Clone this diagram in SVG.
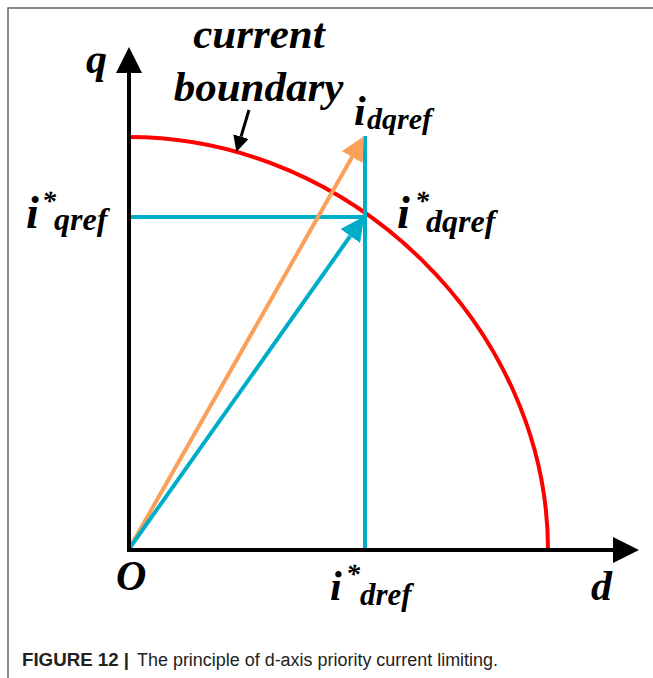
<svg xmlns="http://www.w3.org/2000/svg" width="653" height="678" viewBox="0 0 653 678">
<style>
.lbl{font-family:"Liberation Serif","Times New Roman",serif;font-weight:bold;font-style:italic;fill:#000}
.cap{font-family:"Liberation Sans",Arial,sans-serif;font-size:18px;fill:#222}
.ax{stroke:#000;stroke-width:4;fill:none}
.cy{stroke:#00adc8;stroke-width:4;fill:none}
.or{stroke:#fba05a;stroke-width:4;fill:none}
</style>
<defs>
<marker id="mAx" markerUnits="userSpaceOnUse" markerWidth="26" markerHeight="26" viewBox="0 -12 24 24" refX="0" refY="0" orient="auto"><path d="M0,-12 L24,0 L0,12 z" fill="#000"/></marker>
<marker id="mOr" markerUnits="userSpaceOnUse" markerWidth="24" markerHeight="24" viewBox="0 -11 22 22" refX="0" refY="0" orient="auto"><path d="M0,-11 L22,0 L0,11 z" fill="#fba05a"/></marker>
<marker id="mCy" markerUnits="userSpaceOnUse" markerWidth="24" markerHeight="24" viewBox="0 -11 22 22" refX="0" refY="0" orient="auto"><path d="M0,-11 L22,0 L0,11 z" fill="#00adc8"/></marker>
<marker id="mSm" markerUnits="userSpaceOnUse" markerWidth="16" markerHeight="16" viewBox="0 -7 14 14" refX="0" refY="0" orient="auto"><path d="M0,-7 L14,0 L0,7 z" fill="#000"/></marker>
</defs>
<g id="frame" stroke="#666" stroke-width="1.5" fill="none">
<path d="M8,678 L8,8 L653,8"/>
</g>
<g id="connectors">
<path id="boundary-curve" d="M129,137 C353,137 548,329 548,550" stroke="#ff0000" stroke-width="4" fill="none"/>
<line class="cy" x1="365" y1="136" x2="365" y2="550"/>
<line class="cy" x1="129" y1="217" x2="365" y2="217"/>
<line class="or" x1="129" y1="549" x2="352.1" y2="157.1" marker-end="url(#mOr)"/>
<line class="cy" x1="129" y1="549" x2="350.3" y2="236" marker-end="url(#mCy)"/>
<line class="ax" x1="129" y1="552" x2="129" y2="73" marker-end="url(#mAx)"/>
<line class="ax" x1="127" y1="550" x2="613" y2="550" marker-end="url(#mAx)"/>
<line stroke="#000" stroke-width="3" x1="249" y1="110" x2="241" y2="136.6" marker-end="url(#mSm)"/>
</g>
<g id="label-q"><text class="lbl" x="86" y="73" font-size="42">q</text></g>
<g id="label-boundary">
<text class="lbl" x="259" y="48" font-size="43" text-anchor="middle">current</text>
<text class="lbl" x="258.5" y="101" font-size="43" text-anchor="middle">boundary</text>
</g>
<g id="label-idqref"><text class="lbl" x="354" y="125" font-size="42">i<tspan x="367" y="129" font-size="30">dqref</tspan></text></g>
<g id="label-idqref-star"><text class="lbl" x="397" y="228" font-size="46">i<tspan x="415" y="210" font-size="28">*</tspan><tspan x="426" y="232" font-size="32">dqref</tspan></text></g>
<g id="label-iqref-star"><text class="lbl" x="26" y="228" font-size="46">i<tspan x="42" y="210" font-size="28">*</tspan><tspan x="54" y="230" font-size="32">qref</tspan></text></g>
<g id="label-idref-star"><text class="lbl" x="330" y="600" font-size="42">i<tspan x="346" y="583" font-size="28">*</tspan><tspan x="360" y="605" font-size="31">dref</tspan></text></g>
<g id="label-O"><text class="lbl" x="116" y="590" font-size="42">O</text></g>
<g id="label-d"><text class="lbl" x="591" y="600" font-size="42">d</text></g>
<g id="caption"><text class="cap" x="22" y="666"><tspan font-weight="bold" textLength="107" lengthAdjust="spacingAndGlyphs">FIGURE 12 |</tspan><tspan x="137" textLength="361" lengthAdjust="spacingAndGlyphs">The principle of d-axis priority current limiting.</tspan></text></g>
</svg>
